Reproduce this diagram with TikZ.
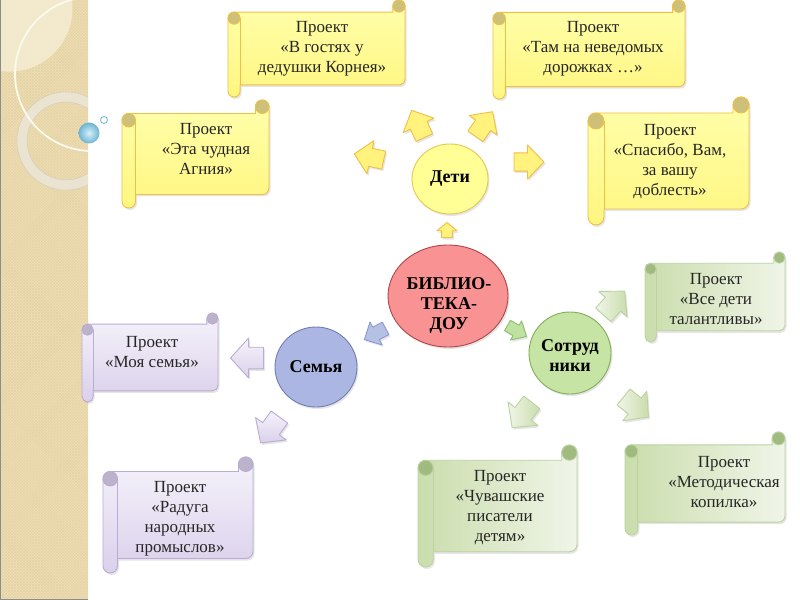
\documentclass[tikz,border=0pt]{standalone}
\usepackage{fontspec}
\setmainfont{Liberation Serif}
\usetikzlibrary{shapes.geometric,shadows,patterns}

\definecolor{stripTan}{RGB}{238,222,178}
\definecolor{stripHatch}{RGB}{228,211,166}
\definecolor{stripLight}{RGB}{245,237,212}
\definecolor{arcCream}{RGB}{252,249,238}
\definecolor{ringCol}{RGB}{236,232,222}
\definecolor{bubIn}{RGB}{215,240,250}
\definecolor{bubOut}{RGB}{110,180,210}

\definecolor{ylTop}{RGB}{255,255,172}
\definecolor{ylBot}{RGB}{255,246,128}
\definecolor{ylBorder}{RGB}{238,192,72}
\definecolor{ylCurl}{RGB}{205,192,120}
\definecolor{plTop}{RGB}{246,243,251}
\definecolor{plBot}{RGB}{218,208,235}
\definecolor{plBorder}{RGB}{186,172,212}
\definecolor{plCurl}{RGB}{188,178,204}
\definecolor{gnLeft}{RGB}{202,221,172}
\definecolor{gnRight}{RGB}{240,245,232}
\definecolor{gnBorder}{RGB}{188,210,160}
\definecolor{gnCurl}{RGB}{160,186,128}

\definecolor{detiFill}{RGB}{255,255,150}
\definecolor{detiBorder}{RGB}{228,200,80}
\definecolor{bibFill}{RGB}{249,146,146}
\definecolor{bibBorder}{RGB}{175,70,70}
\definecolor{semFill}{RGB}{172,182,226}
\definecolor{semBorder}{RGB}{112,126,178}
\definecolor{sotFill}{RGB}{198,228,164}
\definecolor{sotBorder}{RGB}{132,172,92}

\definecolor{yaFill}{RGB}{255,242,125}
\definecolor{yaBorder}{RGB}{240,190,70}
\definecolor{baFill}{RGB}{180,192,228}
\definecolor{baBorder}{RGB}{140,155,205}
\definecolor{gaFill}{RGB}{192,226,160}
\definecolor{gaBorder}{RGB}{140,190,110}

\tikzset{
  myshadow/.style={drop shadow={shadow xshift=1.5bp,shadow yshift=-2bp,opacity=0.2}},
  scrolltext/.style={align=center,inner sep=0pt,text=black!85,
    font=\fontsize{17bp}{20bp}\selectfont},
  hub/.style={ellipse,inner sep=0pt,line width=0.9bp,myshadow,
    font=\bfseries\fontsize{18bp}{20bp}\selectfont,align=center},
  hubtext/.style={inner sep=0pt,font=\bfseries\fontsize{18bp}{20bp}\selectfont,align=center},
  scrollY/.style={myshadow,draw=ylBorder,line width=0.9bp,top color=ylTop,bottom color=ylBot},
  scrollP/.style={myshadow,draw=plBorder,line width=0.9bp,top color=plTop,bottom color=plBot},
  scrollG/.style={myshadow,draw=gnBorder,line width=0.9bp,left color=gnLeft,right color=gnRight},
  curlY/.style={draw=ylBorder,line width=0.9bp,fill=ylCurl},
  curlP/.style={draw=plBorder,line width=0.9bp,fill=plCurl},
  curlG/.style={draw=gnBorder,line width=0.9bp,fill=gnCurl},
  rolllineY/.style={draw=ylBorder,line width=0.9bp},
  rolllineP/.style={draw=plBorder,line width=0.9bp},
  rolllineG/.style={draw=gnBorder,line width=0.9bp},
  arrowY/.style={draw=yaBorder,fill=yaFill,line width=0.9bp,line join=round,myshadow},
  arrowB/.style={draw=baBorder,fill=baFill,line width=0.9bp,line join=round,myshadow},
  arrowG/.style={draw=gaBorder,fill=gaFill,line width=0.9bp,line join=round,myshadow},
  arrowP/.style={draw=plBorder,top color=plTop,bottom color=plBot,line width=0.9bp,line join=round,myshadow},
  arrowL/.style={draw=gnBorder,left color=gnRight,right color=gnLeft,line width=0.9bp,line join=round,myshadow},
}

% x, y, angle, length, width, style
\newcommand\blockarrow[6]{%
  \begin{scope}[shift={(#1,#2)},rotate=#3]
    \path[#6] ({-#4/2},{-0.27*#5}) -- ({-0.05*#4},{-0.27*#5}) -- ({-0.05*#4},{-#5/2})
      -- ({#4/2},0) -- ({-0.05*#4},{#5/2}) -- ({-0.05*#4},{0.27*#5})
      -- ({-#4/2},{0.27*#5}) -- cycle;
  \end{scope}}

% name, L, T, R, B, family, text x, text y, text
\newcommand\drawscroll[9]{%
  \pgfmathsetmacro\cc{min(#4-#2,#5-#3)/8}%
  \pgfmathsetmacro\hh{\cc/2}%
  \path[scroll#6] (#2,#3+\cc+\hh) arc[start angle=180,end angle=270,radius=\hh]
    -- (#4-\cc,#3+\cc) -- (#4-\cc,#3+\hh) arc[start angle=180,end angle=360,radius=\hh]
    -- (#4,#5-\cc-\hh) arc[start angle=0,end angle=90,radius=\hh]
    -- (#2+\cc,#5-\cc) -- (#2+\cc,#5-\hh) arc[start angle=0,end angle=180,radius=\hh]
    -- cycle;
  \path[curl#6] (#4-\hh,#3+\hh) circle[radius=\hh];
  \path[curl#6] (#2+\hh,#3+\cc+\hh) circle[radius=\hh];
  \path[rollline#6] (#2+\cc,#3+\cc+\hh) -- (#2+\cc,#5-\cc);
  \node[scrolltext] (#1) at (#7,#8) {#9};
}

\begin{document}
\begin{tikzpicture}[x=1bp,y=-1bp]
\useasboundingbox (0,0) rectangle (800,600);
\fill[white] (0,0) rectangle (800,600);

% left decorative strip
\fill[stripTan] (0,0) rectangle (88,600);
\fill[pattern=north east lines,pattern color=stripHatch] (0,0) rectangle (88,600);
\fill[pattern=north west lines,pattern color=stripHatch] (0,0) rectangle (88,600);
\begin{scope}
  \clip (0,0) rectangle (88,600);
  \fill[stripLight,opacity=0.85] (9.5,8.6) circle[radius=63];
  \draw[ringCol,line width=10bp,opacity=0.75] (66,141) circle[radius=44];
  \draw[black!25,line width=0.5bp,opacity=0.5] (66,141) circle[radius=49];
  \draw[black!25,line width=0.5bp,opacity=0.5] (66,141) circle[radius=39];
  \draw[arcCream,line width=1.8bp] (92,74) circle[radius=77];
\end{scope}
\draw[black!45,line width=0.8bp] (0.4,0) -- (0.4,599.6) -- (88,599.6);

% bubbles
\shade[inner color=bubIn,outer color=bubOut] (89,133) circle[radius=10.5];
\draw[bubOut,fill=white,line width=0.8bp] (104,120) circle[radius=3.5];

% scrolls
\drawscroll{s1}{228}{0}{405}{97}{Y}{322}{49}{Проект\\«В гостях у\\дедушки Корнея»}
\drawscroll{s2}{493}{0}{685}{99}{Y}{593}{49}{Проект\\«Там на неведомых\\дорожках …»}
\drawscroll{s3}{122}{100}{269}{208}{Y}{206}{149}{Проект\\«Эта чудная\\Агния»}
\drawscroll{s4}{588}{97}{749}{225}{Y}{670}{162}{Проект\\«Спасибо, Вам,\\за вашу\\доблесть»}
\drawscroll{s5}{82}{313}{218}{402}{P}{152}{352}{Проект\\«Моя семья»}
\drawscroll{s6}{103}{457}{253}{573}{P}{180}{519}{Проект\\«Радуга\\народных\\промыслов»}
\drawscroll{s7}{645}{252}{785}{342}{G}{716}{299}{Проект\\«Все дети\\талантливы»}
\drawscroll{s8}{418}{445}{577}{567}{G}{500}{508}{Проект\\«Чувашские\\писатели\\детям»}
\drawscroll{s9}{625}{432}{785}{535}{G}{724}{482}{Проект\\«Методическая\\копилка»}

% arrows
\blockarrow{369}{157}{168}{30}{34}{arrowY}
\blockarrow{418}{124}{115}{30}{34}{arrowY}
\blockarrow{484}{124}{55}{30}{34}{arrowY}
\blockarrow{529}{162}{0}{30}{34}{arrowY}
\blockarrow{447}{230}{90}{15}{20}{arrowY}
\blockarrow{375}{334}{208}{24}{26}{arrowB}
\blockarrow{517}{331}{-30}{22}{22}{arrowG}
\blockarrow{247}{358}{180}{33}{40}{arrowP}
\blockarrow{270}{430}{234}{32}{38}{arrowP}
\blockarrow{614}{303}{48}{32}{38}{arrowL}
\blockarrow{522}{415}{232}{32}{38}{arrowL}
\blockarrow{636}{407}{-39}{32}{38}{arrowL}

% hubs
\node[hub,fill=detiFill,draw=detiBorder,minimum width=76bp,minimum height=70bp] (deti) at (450,179) {Дети};
\node[hub,fill=bibFill,draw=bibBorder,minimum width=120bp,minimum height=102bp] (biblio) at (448,296) {};
\node[hubtext] (biblioT) at (449,305) {БИБЛИО-\\ТЕКА-\\ДОУ};
\node[hub,fill=semFill,draw=semBorder,minimum width=82bp,minimum height=80bp] (semya) at (316,367) {Семья};
\node[hub,fill=sotFill,draw=sotBorder,minimum width=82bp,minimum height=82bp] (sotr) at (570,353) {};
\node[hubtext] (sotrT) at (570,356) {Сотруд\\ники};
\end{tikzpicture}
\end{document}
